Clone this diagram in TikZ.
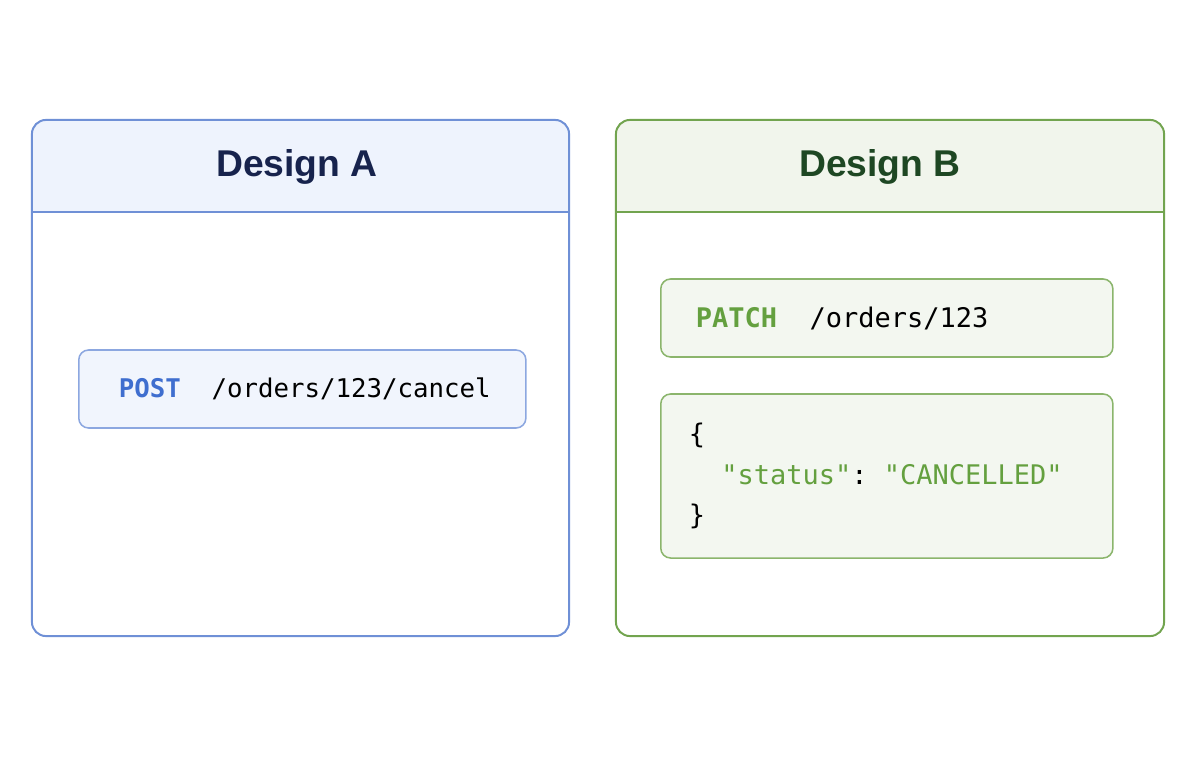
\documentclass[tikz,border=0pt]{standalone}
\usepackage{fontspec}
\setmainfont{Liberation Sans}
\setmonofont{DejaVu Sans Mono}
\usetikzlibrary{positioning}
\definecolor{lineA}{HTML}{6F90D6}
\definecolor{headA}{HTML}{EEF3FD}
\definecolor{edgeA}{HTML}{8CA7E0}
\definecolor{fillA}{HTML}{F1F5FD}
\definecolor{titleA}{HTML}{17234D}
\definecolor{postblue}{HTML}{3F6ECF}
\definecolor{lineB}{HTML}{72A44F}
\definecolor{headB}{HTML}{F1F5EC}
\definecolor{edgeB}{HTML}{8BB56C}
\definecolor{fillB}{HTML}{F3F7F0}
\definecolor{titleB}{HTML}{1E4723}
\definecolor{patchgreen}{HTML}{64A03F}
\newcommand{\gap}{\phantom{xx}}
\tikzset{
  panel/.style={draw, line width=1.4pt, rounded corners=10pt, inner sep=0pt},
  title/.style={font=\fontsize{26.5}{32}\selectfont\bfseries},
  call/.style={draw, line width=1.1pt, rounded corners=7pt, anchor=west, align=left,
    inner ysep=0pt, font=\fontsize{18.3}{29}\selectfont\ttfamily},
  bigcall/.style={call, font=\fontsize{19.2}{28.5}\selectfont\ttfamily},
}
\begin{document}
\begin{tikzpicture}[x=0.025cm, y=-0.025cm]
        \useasboundingbox (0,0) rectangle (1200,770);
        % design A
        \begin{scope}
          \clip (32,120) rectangle (569,212);
          \fill [headA, rounded corners=10pt] (32,120) rectangle (569,636);
        \end{scope}
        \node [panel, draw=lineA, minimum width=13.425cm, minimum height=12.9cm] (panelA) at (300.5,378) {};
        \draw [lineA, line width=1.4pt] (32,212) -- (569,212);
        \node [title, text=titleA] (titleA) at (297,167) {Design A};
        \node [call, draw=edgeA, fill=fillA, text width=9.175cm, inner xsep=1.0cm, minimum height=1.95cm] (postA) at (78,389)
          {\textcolor{postblue}{\bfseries POST}\gap/orders/123/cancel};
        % design B
        \begin{scope}
          \clip (616,120) rectangle (1164,212);
          \fill [headB, rounded corners=10pt] (616,120) rectangle (1164,636);
        \end{scope}
        \node [panel, draw=lineB, minimum width=13.7cm, minimum height=12.9cm] (panelB) at (890,378) {};
        \draw [lineB, line width=1.4pt] (616,212) -- (1164,212);
        \node [title, text=titleB] (titleB) at (880,167) {Design B};
        \node [bigcall, draw=edgeB, fill=fillB, text width=9.55cm, inner xsep=0.875cm, minimum height=1.95cm] (patchB) at (660,318)
          {\textcolor{patchgreen}{\bfseries PATCH}\gap/orders/123};
        \node [bigcall, draw=edgeB, fill=fillB, text width=9.9cm, inner xsep=0.7cm, minimum height=4.1cm] (bodyB) at (660,476)
          {\{\\\gap\textcolor{patchgreen}{"status"}:\phantom{x}\textcolor{patchgreen}{"CANCELLED"}\\\}};
\end{tikzpicture}
\end{document}
